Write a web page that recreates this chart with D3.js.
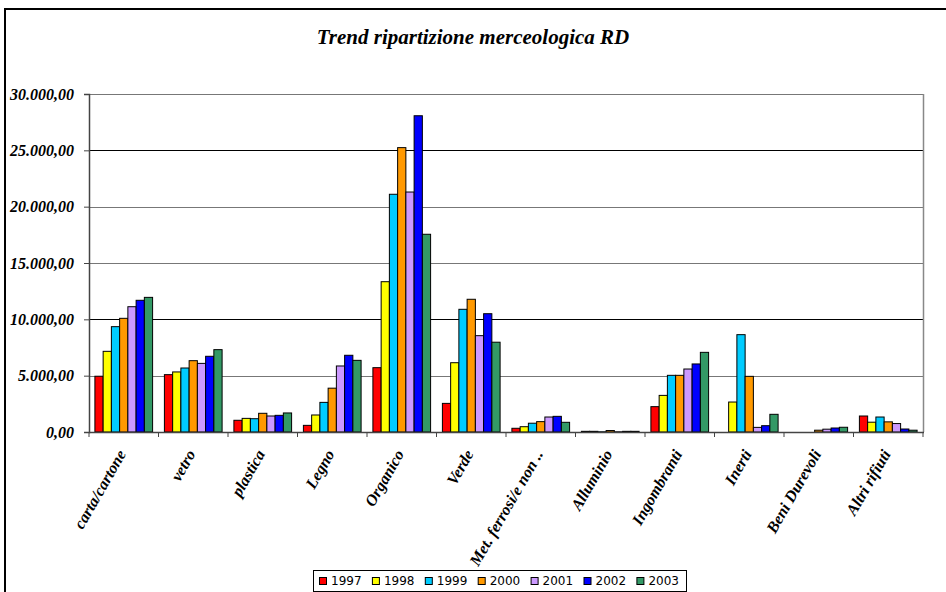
<!DOCTYPE html>
<html>
<head>
<meta charset="utf-8">
<script src="https://cdn.jsdelivr.net/npm/d3@7"></script>
<style>
  html, body { margin: 0; padding: 0; background: #fff; }
  svg { display: block; }
</style>
</head>
<body>
<script>
// ---- Data ----
const categories = ["carta/cartone", "vetro", "plastica", "Legno", "Organico", "Verde",
  "Met. ferrosi/e non ..", "Alluminio", "Ingombranti", "Inerti", "Beni Durevoli", "Altri rifiuti"];
const years = ["1997", "1998", "1999", "2000", "2001", "2002", "2003"];
const v1997 = [4950, 5090, 1040, 590, 5710, 2540, 330, 60, 2250, 0, 0, 1420];
const v1998 = [7160, 5330, 1210, 1510, 13340, 6150, 470, 60, 3250, 2660, 0, 870];
const v1999 = [9350, 5680, 1180, 2630, 21100, 10890, 780, 20, 5030, 8640, 0, 1330];
const v2000 = [10090, 6330, 1660, 3890, 25240, 11780, 920, 130, 5030, 4940, 160, 900];
const v2001 = [11120, 6090, 1420, 5860, 21300, 8550, 1330, 20, 5590, 410, 250, 750];
const v2002 = [11690, 6720, 1480, 6810, 28070, 10500, 1390, 60, 6040, 560, 355, 266];
const v2003 = [11950, 7310, 1690, 6360, 17550, 7970, 860, 60, 7070, 1570, 420, 160];
const seriesValues = [v1997, v1998, v1999, v2000, v2001, v2002, v2003];
const yTicks = [0, 5000, 10000, 15000, 20000, 25000, 30000];
const colors = ["#FF0000", "#FFFF00", "#00CCFF", "#FF9900", "#CC99FF", "#0000FF", "#339966"];
const title = "Trend ripartizione merceologica RD";

// ---- Layout ----
const W = 946, H = 592;
const plot = { left: 89, right: 923, top: 94, bottom: 432 };
const serif = "'Liberation Serif', 'Times New Roman', serif";

const svg = d3.select("body").append("svg").attr("width", W).attr("height", H);

// outer chart frame
svg.append("rect").attr("x", 5).attr("y", 9).attr("width", 1000).attr("height", 700)
  .attr("fill", "#fff").attr("stroke", "#000").attr("stroke-width", 2);

// title
svg.append("text").attr("x", 473).attr("y", 44).attr("text-anchor", "middle")
  .style("font-family", serif).style("font-weight", "bold").style("font-style", "italic")
  .style("font-size", "21px").text(title);

const x0 = d3.scaleBand().domain(categories).range([plot.left, plot.right]).padding(0);
const gap = 11.8;
const x1 = d3.scaleBand().domain(years).range([gap / 2, x0.bandwidth() - gap / 2]).padding(0);
const y = d3.scaleLinear().domain([0, 30000]).range([plot.bottom, plot.top]);

const loc = d3.formatLocale({ decimal: ",", thousands: ".", grouping: [3], currency: ["", "€"] });
const fmt = loc.format(",.2f");

// gridlines
const gridColor = d => (d === 25000 || d === 10000) ? "#000" : "#777";
svg.append("g").selectAll("line").data(yTicks.filter(d => d > 0)).join("line")
  .attr("x1", plot.left).attr("x2", plot.right)
  .attr("y1", d => Math.round(y(d)) + 0.5).attr("y2", d => Math.round(y(d)) + 0.5)
  .attr("stroke", gridColor).attr("stroke-width", 1.2);

// plot-area right border
svg.append("line").attr("x1", plot.right + 0.5).attr("x2", plot.right + 0.5)
  .attr("y1", plot.top).attr("y2", plot.bottom).attr("stroke", "#888").attr("stroke-width", 1.5);

// bars
const data = categories.map((c, i) => ({ c, vals: years.map((yr, j) => ({ yr, j, v: seriesValues[j][i] })) }));
const groups = svg.append("g").selectAll("g").data(data).join("g")
  .attr("transform", d => `translate(${x0(d.c)},0)`);
groups.selectAll("rect").data(d => d.vals.filter(e => e.v > 0)).join("rect")
  .attr("x", d => x1(d.yr))
  .attr("y", d => y(d.v))
  .attr("width", x1.bandwidth())
  .attr("height", d => y(0) - y(d.v))
  .attr("fill", d => colors[d.j])
  .attr("stroke", "#000").attr("stroke-width", 1);

// y axis
const yAxis = d3.axisLeft(y).tickValues(yTicks).tickFormat(fmt).tickSize(5).tickPadding(10);
const gy = svg.append("g").attr("transform", `translate(${plot.left},0)`).call(yAxis);
gy.select(".domain").attr("stroke", "#444").attr("stroke-width", 1.5);
gy.selectAll(".tick line").attr("stroke", "#444");
gy.selectAll(".tick text").style("font-family", serif).style("font-weight", "bold")
  .style("font-style", "italic").style("font-size", "16px").attr("fill", "#000");

// x axis (ticks at category boundaries)
const gx = svg.append("g").attr("transform", `translate(0,${plot.bottom})`);
gx.append("line").attr("x1", plot.left).attr("x2", plot.right + 1)
  .attr("y1", 0.5).attr("y2", 0.5).attr("stroke", "#444").attr("stroke-width", 1.5);
const bounds = categories.map(c => x0(c)).concat([plot.right]);
gx.selectAll("line.tk").data(bounds).join("line").attr("class", "tk")
  .attr("x1", d => d).attr("x2", d => d).attr("y1", 0).attr("y2", 5)
  .attr("stroke", "#444");
gx.selectAll("text").data(categories).join("text")
  .attr("transform", c => `translate(${x0(c) + x0.bandwidth() / 2 - 2},${19}) rotate(-60)`)
  .attr("text-anchor", "end")
  .attr("dy", "0.35em")
  .style("font-family", serif).style("font-weight", "bold").style("font-style", "italic")
  .style("font-size", "16px").text(c => c);

// legend
const lg = svg.append("g");
lg.append("rect").attr("x", 313.5).attr("y", 570.5).attr("width", 373).attr("height", 21)
  .attr("fill", "#fff").attr("stroke", "#000").attr("stroke-width", 1);
const items = lg.selectAll("g.it").data(years).join("g").attr("class", "it")
  .attr("transform", (d, i) => `translate(${319 + i * 52.9},581)`);
items.append("rect").attr("x", 0.5).attr("y", -3.5).attr("width", 7).attr("height", 7)
  .attr("fill", (d, i) => colors[i]).attr("stroke", "#000");
items.append("text").attr("x", 12).attr("y", 0).attr("dy", "0.36em")
  .style("font-family", "'DejaVu Sans', Verdana, sans-serif").style("font-size", "12px")
  .text(d => d);
</script>
</body>
</html>
